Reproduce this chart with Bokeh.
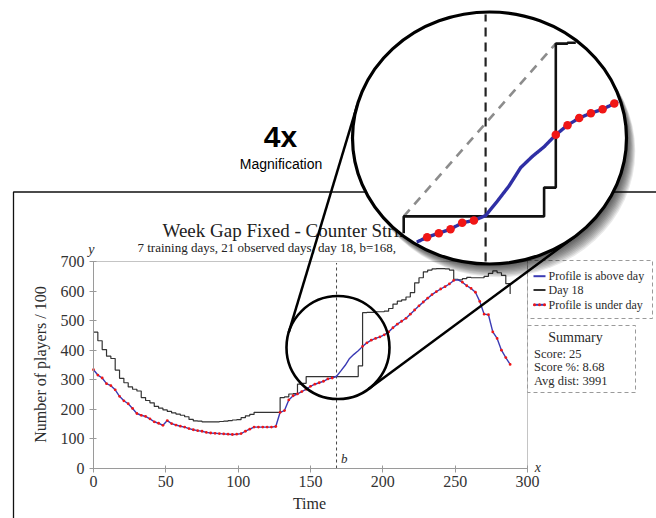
import numpy as np
from bokeh.plotting import figure
from bokeh.models import Range1d, LinearAxis, FixedTicker
from bokeh.core.properties import value
from bokeh.embed import file_html
from bokeh.resources import INLINE

# ------------------------------------------------------------------ data
TIME = list(range(0, 289, 3))

DAY18 = [
    461, 432, 402, 380, 372, 333, 305, 290, 276, 268,
    262, 240, 230, 222, 210, 204, 198, 193, 188, 184,
    180, 175, 166, 161, 160, 158, 158, 158, 158, 159,
    160, 162, 164, 165, 172, 178, 183, 190, 190, 190,
    190, 190, 190, 240, 242, 252, 253, 285, 288, 311,
    311, 311, 311, 311, 311, 311, 311, 311, 311, 311,
    311, 347, 527, 528, 528, 530, 530, 532, 541, 556,
    566, 570, 580, 595, 628, 645, 665, 671, 675, 676,
    676, 675, 671, 640, 638, 642, 646, 645, 645, 645,
    650, 660, 668, 662, 653, 625, 590,
]

PROFILE = [
    334, 316, 306, 287, 280, 266, 244, 229, 219, 203,
    186, 180, 176, 168, 158, 153, 146, 162, 152, 147,
    143, 140, 135, 131, 128, 126, 122, 120, 119, 118,
    117, 116, 115, 116, 118, 126, 133, 140, 140, 140,
    140, 140, 142, 190, 196, 232, 246, 252, 260, 268,
    278, 285, 290, 295, 303, 306, 312, 330, 349, 372,
    386, 398, 413, 425, 434, 440, 445, 452, 462, 476,
    488, 498, 508, 522, 536, 550, 563, 576, 588, 598,
    607, 615, 624, 636, 638, 630, 618, 609, 596, 565,
    522, 520, 462, 440, 400, 375, 352,
]

B_TIME = 168                 # b, the marked time of day
CHORD_TIMES = [147, 186]     # day-18 vertices joined by the dashed chord

X_TICKS = [0, 50, 100, 150, 200, 250, 300]
Y_TICKS = [0, 100, 200, 300, 400, 500, 600, 700]

TITLE = "Week Gap Fixed - Counter Strike"
SUBTITLE = "7 training days, 21 observed days, day 18, b=168,"
X_LABEL = "Time"
Y_LABEL = "Number of players / 100"
LEGEND_LABELS = ["Profile is above day", "Day 18", "Profile is under day"]
SUMMARY_TITLE = "Summary"
SUMMARY_LINES = ["Score: 25", "Score %: 8.68", "Avg dist: 3991"]
ZOOM_TEXT = ["4x", "Magnification"]

# ------------------------------------------------------------------ layout
W, H = 656, 518
X0, X1 = 93, 527          # pixel columns of time 0 and the last x tick
Y0, Y1 = 468, 261         # pixel rows of 0 players and the last y tick
SX = (X1 - X0) / X_TICKS[-1]
SY = (Y0 - Y1) / Y_TICKS[-1]

FOCUS_T, FOCUS_V = 169.0, 409.0       # centre of the magnified neighbourhood
SMALL_R = 51.5                          # radius of the small lens (px)
BIG_CX, BIG_CY = 489.0, 137.5           # centre of the big lens (px)
BIG_RX, BIG_RY = 137.0, 126.0           # radii of the big lens (px)
MX, MY = 3.9, 0.80                      # px per unit inside the big lens

SERIF = "Liberation Serif"
SANS = "Liberation Sans"
INK = "#2b2b2b"
BLUE = "#3a3ab4"
RED = "#f01616"

p = figure(width=W, height=H, x_range=Range1d(0, W), y_range=Range1d(H, 0),
           x_axis_type=None, y_axis_type=None, toolbar_location=None,
           output_backend="svg", min_border=0, outline_line_color=None,
           background_fill_color="white", border_fill_color="white")

p.extra_x_ranges = {
    "cx": Range1d(-X0 / SX, (W - X0) / SX),
    "mx": Range1d(FOCUS_T - BIG_CX / MX, FOCUS_T + (W - BIG_CX) / MX),
}
p.extra_y_ranges = {
    "cy": Range1d((Y0 - H) / SY, Y0 / SY),
    "my": Range1d(FOCUS_V - (H - BIG_CY) / MY, FOCUS_V + BIG_CY / MY),
}
CH = dict(x_range_name="cx", y_range_name="cy")
MG = dict(x_range_name="mx", y_range_name="my")


def label(x, y, s, size, align="left", font=SERIF, style="normal",
          color=INK, angle=0.0, **kw):
    p.text(x=[x], y=[y], text=[s], text_font=value(font),
           text_font_size=value(f"{size}px"), text_font_style=value(style),
           text_color=color, text_align=value(align),
           text_baseline=value("middle"), angle=angle, **kw)


# ------------------------------------------------------------------ page frame
p.line(x=[13, 13, W], y=[H, 191.5, 191.5], line_color="#111111", line_width=1.3)

# ------------------------------------------------------------------ main chart
p.line(x=[X_TICKS[0], X_TICKS[-1], X_TICKS[-1]],
       y=[Y_TICKS[-1], Y_TICKS[-1], Y_TICKS[0]],
       line_color="#c4c4c4", line_width=1, **CH)
p.line(x=[B_TIME, B_TIME], y=[Y_TICKS[0], Y_TICKS[-1] - 5],
       line_color="#444444", line_width=1, line_dash="3 3", **CH)
p.step(x=TIME, y=DAY18, mode="after", line_color="#333333", line_width=1.2, **CH)
p.line(x=TIME, y=PROFILE, line_color=BLUE, line_width=1.4, **CH)

under_t = [t for t, v, d in zip(TIME, PROFILE, DAY18) if v < d]
under_v = [v for t, v, d in zip(TIME, PROFILE, DAY18) if v < d]
p.scatter(x=under_t, y=under_v, size=2.8, fill_color=RED, line_color=None, **CH)

axis_style = dict(axis_line_color="#9a9a9a", axis_line_width=1,
                  major_tick_line_color="#9a9a9a", minor_tick_line_color=None,
                  major_label_text_font=SERIF, major_label_text_font_size="16px",
                  major_label_text_color="#333333", major_tick_in=3, major_tick_out=4)
xaxis = LinearAxis(x_range_name="cx", y_range_name="cy", fixed_location=0,
                   ticker=FixedTicker(ticks=X_TICKS, minor_ticks=[]),
                   bounds=(X_TICKS[0], X_TICKS[-1]), major_label_standoff=3,
                   **axis_style)
p.add_layout(xaxis, "below")
yaxis = LinearAxis(x_range_name="cx", y_range_name="cy", fixed_location=0,
                   ticker=FixedTicker(ticks=Y_TICKS, minor_ticks=[]),
                   bounds=(Y_TICKS[0], Y_TICKS[-1]), major_label_standoff=5,
                   **axis_style)
p.add_layout(yaxis, "left")

label(-1.4, Y_TICKS[-1] + 40, "y", 14, align="center", style="italic", **CH)
label(X_TICKS[-1] + 5, 4, "x", 14, align="left", style="italic", **CH)
label(B_TIME + 3, 34, "b", 13, align="left", style="italic", **CH)

label(309, 503, X_LABEL, 16, align="center")
label(40, 364, Y_LABEL, 16, align="center", angle=np.pi / 2)

label(162, 229.5, TITLE, 19, color="#222222")
label(137, 246.5, SUBTITLE, 13, color="#222222")

# legend
p.quad(left=[527], right=[652], top=[260], bottom=[318], fill_color=None,
       line_color="#9a9a9a", line_width=1, line_dash="4 3")
leg_y = [275.7, 289.5, 304.3]
p.line(x=[533, 545], y=[leg_y[0]] * 2, line_color=BLUE, line_width=2)
p.line(x=[533, 545], y=[leg_y[1]] * 2, line_color="#333333", line_width=2)
p.line(x=[533, 545], y=[leg_y[2]] * 2, line_color=BLUE, line_width=2)
p.scatter(x=[534, 539, 544], y=[leg_y[2]] * 3, size=3.0, fill_color=RED, line_color=None)
for yy, s in zip(leg_y, LEGEND_LABELS):
    label(548, yy, s, 12)

# summary
p.quad(left=[527], right=[635], top=[325], bottom=[392], fill_color=None,
       line_color="#9a9a9a", line_width=1, line_dash="4 3")
label(575, 337, SUMMARY_TITLE, 14, align="center")
for yy, s in zip([353, 366.7, 380.3], SUMMARY_LINES):
    label(533.5, yy, s, 12.5)

# ------------------------------------------------------------------ lenses
small_cx = X0 + FOCUS_T * SX
small_cy = Y0 - FOCUS_V * SY
p.ellipse(x=[FOCUS_T], y=[FOCUS_V], width=[2 * SMALL_R], height=[2 * SMALL_R],
          width_units="screen", height_units="screen", fill_color=None,
          line_color="black", line_width=2.6, **CH)

# common outer tangents of the two lenses
phi = np.linspace(0, 2 * np.pi, 14400, endpoint=False)
nx, ny = np.cos(phi), np.sin(phi)


def support(cx, cy, rx, ry):
    k = np.sqrt((rx * nx) ** 2 + (ry * ny) ** 2)
    return cx + rx * rx * nx / k, cy + ry * ry * ny / k, cx * nx + cy * ny + k


bx, by, hb = support(BIG_CX, BIG_CY, BIG_RX, BIG_RY)
sx_, sy_, hs = support(small_cx, small_cy, SMALL_R, SMALL_R)
gap = hb - hs
cross = np.where(np.sign(gap) != np.sign(np.roll(gap, -1)))[0]
for i in cross:
    p.line(x=[sx_[i], bx[i]], y=[sy_[i], by[i]], line_color="black", line_width=2.5)

# soft drop shadow of the big lens
for k in range(1, 12):
    p.ellipse(x=[BIG_CX + 0.8 * k], y=[BIG_CY + 1.2 * k],
              width=[2 * BIG_RX], height=[2 * BIG_RY],
              width_units="screen", height_units="screen",
              fill_color="black", fill_alpha=0.085, line_color=None)

p.ellipse(x=[BIG_CX], y=[BIG_CY], width=[2 * BIG_RX], height=[2 * BIG_RY],
          width_units="screen", height_units="screen",
          fill_color="white", line_color=None)

# magnified view, kept inside the big lens
LENS_RT = (BIG_RX - 2.0) / MX
LENS_RV = (BIG_RY - 2.0) / MY


def in_lens(t, v, margin=0.0):
    rt = LENS_RT - margin / MX
    rv = LENS_RV - margin / MY
    return ((t - FOCUS_T) / rt) ** 2 + ((v - FOCUS_V) / rv) ** 2 <= 1.0


def lens_clip(xs, ys, step_px=0.5):
    xs = np.asarray(xs, float)
    ys = np.asarray(ys, float)
    px, py = [], []
    for i in range(len(xs) - 1):
        seg = np.hypot((xs[i + 1] - xs[i]) * MX, (ys[i + 1] - ys[i]) * MY)
        n = max(2, int(np.ceil(seg / step_px)))
        f = np.linspace(0, 1, n, endpoint=False)
        px.append(xs[i] + (xs[i + 1] - xs[i]) * f)
        py.append(ys[i] + (ys[i + 1] - ys[i]) * f)
    px.append([xs[-1]])
    py.append([ys[-1]])
    px = np.concatenate(px)
    py = np.concatenate(py)
    inside = in_lens(px, py)
    out_x, out_y, prev = [], [], False
    for x, y, ok in zip(px, py, inside):
        if ok:
            out_x.append(x)
            out_y.append(y)
        elif prev:
            out_x.append(np.nan)
            out_y.append(np.nan)
        prev = ok
    return np.array(out_x), np.array(out_y)


def step_vertices(xs, ys):
    vx, vy = [xs[0]], [ys[0]]
    for i in range(1, len(xs)):
        vx += [xs[i], xs[i]]
        vy += [ys[i - 1], ys[i]]
    return vx, vy


mx_, my_ = lens_clip([B_TIME, B_TIME], [FOCUS_V - 400, FOCUS_V + 400])
p.line(x=mx_, y=my_, line_color="#222222", line_width=2.2, line_dash="9 6", **MG)

chord_v = [DAY18[TIME.index(t)] for t in CHORD_TIMES]
mx_, my_ = lens_clip(CHORD_TIMES, chord_v)
p.line(x=mx_, y=my_, line_color="#8c8c8c", line_width=2.6, line_dash="9 7", **MG)

mx_, my_ = lens_clip(*step_vertices(TIME, DAY18))
p.line(x=mx_, y=my_, line_color="#111111", line_width=2.6, **MG)

mx_, my_ = lens_clip(TIME, PROFILE)
p.line(x=mx_, y=my_, line_color="#2f2fa5", line_width=3.4, line_join="round", **MG)

dots = [(t, v) for t, v in zip(under_t, under_v) if in_lens(t, v, margin=3.0)]
p.scatter(x=[t for t, _ in dots], y=[v for _, v in dots], size=8.5,
          fill_color=RED, line_color=None, **MG)

p.ellipse(x=[BIG_CX], y=[BIG_CY], width=[2 * BIG_RX], height=[2 * BIG_RY],
          width_units="screen", height_units="screen",
          fill_color=None, line_color="black", line_width=3.2)

label(280, 136, ZOOM_TEXT[0], 30, align="center", font=SANS, style="bold", color="black")
label(280.5, 163.5, ZOOM_TEXT[1], 14, align="center", font=SANS, color="black")

open("out.html", "w").write(file_html(p, INLINE))
